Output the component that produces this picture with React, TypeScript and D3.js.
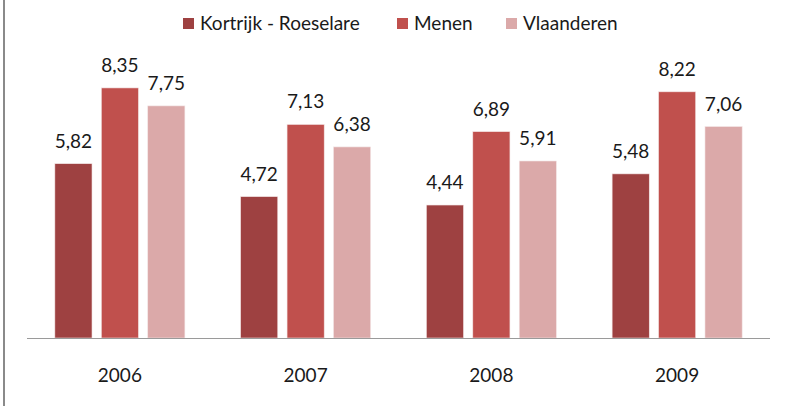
import React from "react";
import * as d3 from "d3";

const years = ["2006", "2007", "2008", "2009"];
const seriesNames = ["Kortrijk - Roeselare", "Menen", "Vlaanderen"];
const kortrijk = [5.82, 4.72, 4.44, 5.48];
const menen = [8.35, 7.13, 6.89, 8.22];
const vlaanderen = [7.75, 6.38, 5.91, 7.06];
const colors = ["#9E4141", "#C0504D", "#DBA9A9"];

const W = 787;
const H = 406;
const FONT = "Lato, 'Open Sans', sans-serif";

export default function App() {
  const values = [kortrijk, menen, vlaanderen];
  const x0 = d3.scaleBand().domain(years).range([27, 770]).paddingInner(0.3).paddingOuter(0.15);
  const x1 = d3.scaleBand().domain(seriesNames).range([0, x0.bandwidth()]).paddingInner(0.2);
  const y = d3.scaleLinear().domain([0, 10]).range([338, 38.5]);
  const fmt = (v: number) => v.toFixed(2).replace(".", ",");

  const legendX = [183, 397, 506];

  return (
    <svg width={W} height={H} style={{ position: "absolute", left: 0, top: 0, background: "#fff" }} fontFamily={FONT}>
      <rect x={0} y={0} width={W} height={H} fill="#fff" />
      <line x1={4} x2={4} y1={0} y2={H} stroke="#8a8a8a" strokeWidth={2} />
      {years.map((yr, i) => (
        <g key={yr} transform={`translate(${x0(yr)},0)`}>
          {seriesNames.map((s, j) => {
            const v = values[j][i];
            const bx = x1(s)!;
            return (
              <g key={s}>
                <rect x={bx} y={y(v)} width={x1.bandwidth()} height={y(0) - y(v)} fill={colors[j]} stroke="#f3e6e6" strokeWidth={0.6} />
                <text x={bx + x1.bandwidth() / 2} y={y(v) - 16} textAnchor="middle" fontSize={19} fill="#1a1a1a">
                  {fmt(v)}
                </text>
              </g>
            );
          })}
          <text x={x0.bandwidth() / 2} y={382} textAnchor="middle" fontSize={19} fill="#1a1a1a">
            {yr}
          </text>
        </g>
      ))}
      <line x1={27} x2={770} y1={338.5} y2={338.5} stroke="#9a9a9a" strokeWidth={1.2} />
      {seriesNames.map((s, j) => (
        <g key={s}>
          <rect x={legendX[j]} y={18} width={11} height={11} fill={colors[j]} />
          <text x={legendX[j] + 17} y={30} fontSize={19} fill="#1a1a1a">
            {s}
          </text>
        </g>
      ))}
    </svg>
  );
}
